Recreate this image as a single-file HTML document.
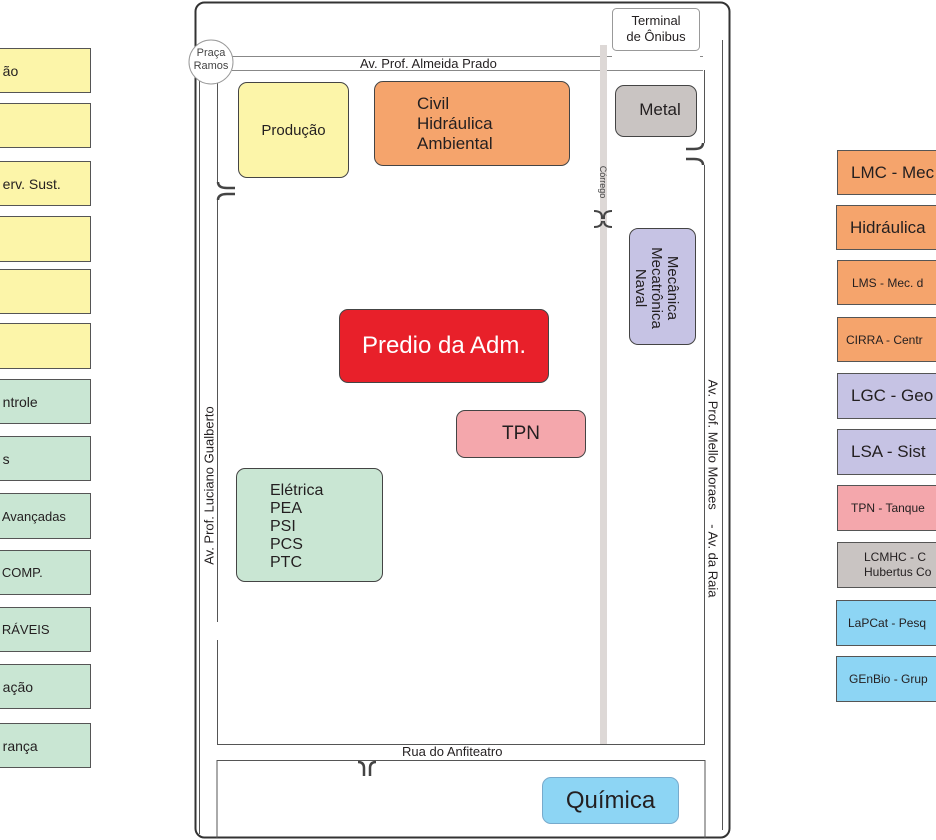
<!DOCTYPE html>
<html><head><meta charset="utf-8"><style>
body{margin:0;width:936px;height:840px;background:#fff;position:relative;overflow:hidden;font-family:"Liberation Sans",sans-serif;color:#231f20}
.b{position:absolute;box-sizing:border-box;border:1px solid #555;display:flex;align-items:center;white-space:nowrap;overflow:hidden}
.r{border-radius:9px;border-color:#444}
.y{background:#fcf5a9}.g{background:#c9e6d3}.o{background:#f5a46c}.l{background:#c6c3e4}.p{background:#f4a7ac}.s{background:#c9c4c2}.c{background:#8dd5f4}
</style></head><body>
<!-- left legend -->
<div class="b y" style="left:-10px;top:48px;width:101px;height:45px;font-size:14px;">&nbsp;&nbsp;&nbsp;ão</div>
<div class="b y" style="left:-10px;top:103px;width:101px;height:45px"></div>
<div class="b y" style="left:-10px;top:161px;width:101px;height:45px;font-size:14px;">&nbsp;&nbsp;&nbsp;erv. Sust.</div>
<div class="b y" style="left:-10px;top:216px;width:101px;height:46px"></div>
<div class="b y" style="left:-10px;top:269px;width:101px;height:45px"></div>
<div class="b y" style="left:-10px;top:323px;width:101px;height:46px"></div>
<div class="b g" style="left:-10px;top:379px;width:101px;height:45px;font-size:14px;">&nbsp;&nbsp;&nbsp;ntrole</div>
<div class="b g" style="left:-10px;top:436px;width:101px;height:45px;font-size:14px;">&nbsp;&nbsp;&nbsp;s</div>
<div class="b g" style="left:-10px;top:493px;width:101px;height:46px;font-size:13px;">&nbsp;&nbsp;&nbsp;Avançadas</div>
<div class="b g" style="left:-10px;top:550px;width:101px;height:45px;font-size:13px;">&nbsp;&nbsp;&nbsp;COMP.</div>
<div class="b g" style="left:-10px;top:607px;width:101px;height:45px;font-size:13px;">&nbsp;&nbsp;&nbsp;RÁVEIS</div>
<div class="b g" style="left:-10px;top:664px;width:101px;height:45px;font-size:14px;">&nbsp;&nbsp;&nbsp;ação</div>
<div class="b g" style="left:-10px;top:723px;width:101px;height:45px;font-size:14px;">&nbsp;&nbsp;&nbsp;rança</div>
<!-- right legend -->
<div class="b o" style="left:837px;top:150px;width:110px;height:45px;font-size:17px;padding-left:13px">LMC - Mec</div>
<div class="b o" style="left:836px;top:205px;width:110px;height:45px;font-size:17px;padding-left:13px">Hidráulica</div>
<div class="b o" style="left:837px;top:260px;width:110px;height:45px;font-size:12px;padding-left:14px">LMS - Mec. d</div>
<div class="b o" style="left:837px;top:317px;width:110px;height:45px;font-size:12px;padding-left:8px">CIRRA - Centr</div>
<div class="b l" style="left:837px;top:373px;width:110px;height:46px;font-size:17px;padding-left:13px">LGC - Geo</div>
<div class="b l" style="left:837px;top:429px;width:110px;height:46px;font-size:17px;padding-left:13px">LSA - Sist</div>
<div class="b p" style="left:837px;top:485px;width:110px;height:46px;font-size:12px;padding-left:13px">TPN - Tanque</div>
<div class="b s" style="left:837px;top:542px;width:110px;height:46px;font-size:12px;padding-left:26px;line-height:15px;white-space:normal;width:130px">LCMHC - C<br>Hubertus Co</div>
<div class="b c" style="left:836px;top:600px;width:110px;height:46px;font-size:12px;padding-left:11px">LaPCat - Pesq</div>
<div class="b c" style="left:836px;top:656px;width:110px;height:46px;font-size:12px;padding-left:12px">GEnBio - Grup</div>

<svg width="936" height="840" style="position:absolute;left:0;top:0" fill="none">
<rect x="195.5" y="2.5" width="534" height="835" rx="9" stroke="#333" stroke-width="2"/>
<line x1="199.5" y1="80" x2="199.5" y2="834" stroke="#555"/>
<line x1="217.5" y1="82" x2="217.5" y2="182" stroke="#555"/>
<line x1="217.5" y1="200" x2="217.5" y2="622" stroke="#555"/>
<line x1="217.5" y1="640" x2="217.5" y2="744" stroke="#555"/>
<line x1="217" y1="744.5" x2="705" y2="744.5" stroke="#555"/>
<polyline points="217,838 217,760.5 705,760.5 705,838" stroke="#555"/>
<line x1="230" y1="56.5" x2="612" y2="56.5" stroke="#888"/>
<line x1="700" y1="56.5" x2="703" y2="56.5" stroke="#888"/>
<line x1="232" y1="70.5" x2="703" y2="70.5" stroke="#888"/>
<line x1="704.5" y1="70" x2="704.5" y2="143" stroke="#555"/>
<line x1="704.5" y1="165" x2="704.5" y2="744" stroke="#555"/>
<line x1="722.5" y1="40" x2="722.5" y2="830" stroke="#555"/>
<rect x="600" y="45" width="7" height="699" fill="#ddd8d6"/>
<g stroke="#444" stroke-width="2.5">
<path d="M218,182 q0,6 9,6 h8"/><path d="M218,200 q0,-6 9,-6 h8"/>
<path d="M703,143 q0,6 -9,6 h-8"/><path d="M703,165 q0,-6 -9,-6 h-8"/>
<path d="M594,211 q8,0 8,6 v2 M612,211 q-8,0 -8,6 v2" stroke-width="2"/>
<path d="M594,227 q8,0 8,-6 M612,227 q-8,0 -8,-6" stroke-width="2"/>
<path d="M358,762 q6,0 6,6 v8 M376,762 q-6,0 -6,6 v8" stroke-width="2.5"/>
</g>
<circle cx="211" cy="62" r="22" fill="#fff" stroke="#999"/>
<rect x="612.5" y="8.5" width="87" height="42" rx="4" fill="#fff" stroke="#999"/>
</svg>
<div style="position:absolute;left:189px;top:47px;width:44px;text-align:center;font-size:11px;line-height:13px;color:#444">Praça<br>Ramos</div>
<div style="position:absolute;left:612px;top:13px;width:88px;text-align:center;font-size:13px;line-height:16px">Terminal<br>de Ônibus</div>
<div style="position:absolute;left:360px;top:56px;font-size:13px">Av. Prof. Almeida Prado</div>
<div style="position:absolute;left:402px;top:744px;font-size:13px">Rua do Anfiteatro</div>
<div style="position:absolute;left:124px;top:478px;width:170px;text-align:center;font-size:13px;transform:rotate(-90deg)">Av. Prof. Luciano Gualberto</div>
<div style="position:absolute;left:593px;top:481px;width:240px;text-align:center;font-size:13px;white-space:pre;transform:rotate(90deg)">Av. Prof. Mello Moraes    - Av. da Raia</div>
<div style="position:absolute;left:583px;top:177px;width:40px;text-align:center;font-size:9px;transform:rotate(90deg);color:#444">Córrego</div>

<div class="b r y" style="left:238px;top:82px;width:111px;height:96px;justify-content:center;font-size:15px">Produção</div>
<div class="b r o" style="left:374px;top:81px;width:196px;height:85px;font-size:17px;line-height:20px;padding-left:42px;white-space:normal">Civil<br>Hidráulica<br>Ambiental</div>
<div class="b r s" style="left:615px;top:85px;width:82px;height:52px;justify-content:center;font-size:17px;padding-left:8px;align-items:flex-start;padding-top:14px">Metal</div>
<div class="b r l" style="left:629px;top:228px;width:67px;height:117px"></div>
<div style="position:absolute;left:602px;top:270px;width:120px;height:36px;transform:rotate(90deg);text-align:center;font-size:15px;line-height:16px">Mecânica<br>Mecatrônica<br>Naval</div>
<div class="b r" style="left:339px;top:309px;width:210px;height:74px;background:#e8202a;color:#fff;justify-content:center;font-size:24px">Predio da Adm.</div>
<div class="b r p" style="left:456px;top:410px;width:130px;height:48px;justify-content:center;font-size:19px">TPN</div>
<div class="b r g" style="left:236px;top:468px;width:147px;height:114px;font-size:16px;line-height:18px;padding-left:33px;white-space:normal;align-items:flex-start;padding-top:13px">Elétrica<br>PEA<br>PSI<br>PCS<br>PTC</div>
<div class="b r c" style="left:542px;top:777px;width:137px;height:47px;justify-content:center;font-size:24px;border-color:#7ac">Química</div>
</body></html>
